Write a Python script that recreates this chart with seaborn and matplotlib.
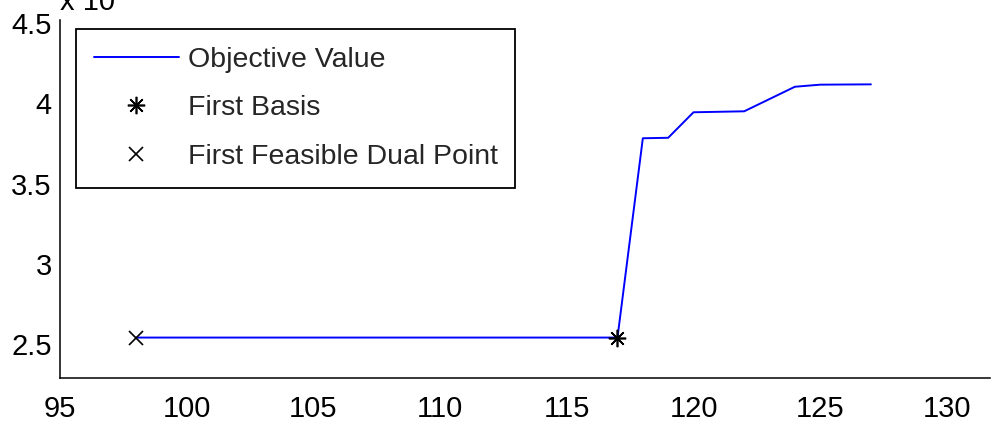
import matplotlib
matplotlib.use("Agg")
import matplotlib.pyplot as plt
import seaborn as sns
import pandas as pd
from matplotlib.lines import Line2D

# Data (values in units of 10^4)
iterations = [98, 117, 118, 119, 120, 122, 124, 125, 127]
objective = [2.54, 2.54, 3.782, 3.785, 3.944, 3.950, 4.103, 4.116, 4.118]
first_basis_x = [117]
first_basis_y = [2.54]
first_dual_x = [98]
first_dual_y = [2.54]
labels = ["Objective Value", "First Basis", "First Feasible Dual Point"]

sns.set_theme(style="white")
plt.rcParams["font.family"] = ["Liberation Sans", "DejaVu Sans"]

W, H = 991, 423
fig = plt.figure(figsize=(W / 100, H / 100), dpi=100)
ax = fig.add_axes([60 / W, (H - 378) / H, 930 / W, 358 / H])

df = pd.DataFrame({"iter": iterations, "obj": objective})
sns.lineplot(data=df, x="iter", y="obj", ax=ax, color=(0, 0, 1), linewidth=1.4,
             sort=False, estimator=None)
ax.plot(first_basis_x, first_basis_y, linestyle="none", marker=(8, 2, 0),
        markersize=12.5, markeredgewidth=1.2, color="black")
ax.plot(first_dual_x, first_dual_y, linestyle="none", marker="x",
        markersize=10, markeredgewidth=1.2, color="black")

ax.set_xlim(95, 131.7)
ax.set_ylim(2.288, 4.519)
ax.set_xticks([95, 100, 105, 110, 115, 120, 125, 130])
ax.set_yticks([2.5, 3, 3.5, 4, 4.5])
ax.set_yticklabels(["2.5", "3", "3.5", "4", "4.5"])
ax.set_xlabel("")
ax.set_ylabel("")

for s in ["top", "right"]:
    ax.spines[s].set_visible(False)
for s in ["left", "bottom"]:
    ax.spines[s].set_color("black")
    ax.spines[s].set_linewidth(1.1)

ax.tick_params(axis="both", direction="in", length=6.5, width=0.8,
               colors="black", labelsize=21)
ax.tick_params(axis="x", pad=12)
ax.tick_params(axis="y", pad=6)
ax.set_facecolor("white")

handles = [
    Line2D([], [], color=(0, 0, 1), linewidth=1.4),
    Line2D([], [], linestyle="none", marker=(8, 2, 0), markersize=12.5,
           markeredgewidth=1.2, color="black"),
    Line2D([], [], linestyle="none", marker="x", markersize=10,
           markeredgewidth=1.2, color="black"),
]
leg = ax.legend(handles, labels, loc="upper left",
                bbox_to_anchor=(76 / W, 1 - 29 / H), bbox_transform=fig.transFigure,
                fontsize=20.5, frameon=True, fancybox=False, shadow=False,
                handlelength=3.0, handletextpad=0.3, labelspacing=0.8,
                borderpad=0.62, borderaxespad=0)
leg.get_frame().set_edgecolor("black")
leg.get_frame().set_linewidth(1.3)
leg.get_frame().set_facecolor("white")
leg.get_frame().set_alpha(1)

fig.text(60 / W, 1 - 10 / H, "x 10", fontsize=21, va="baseline",
         ha="left", color="black")

fig.savefig("out.png", dpi=100, facecolor="white")
